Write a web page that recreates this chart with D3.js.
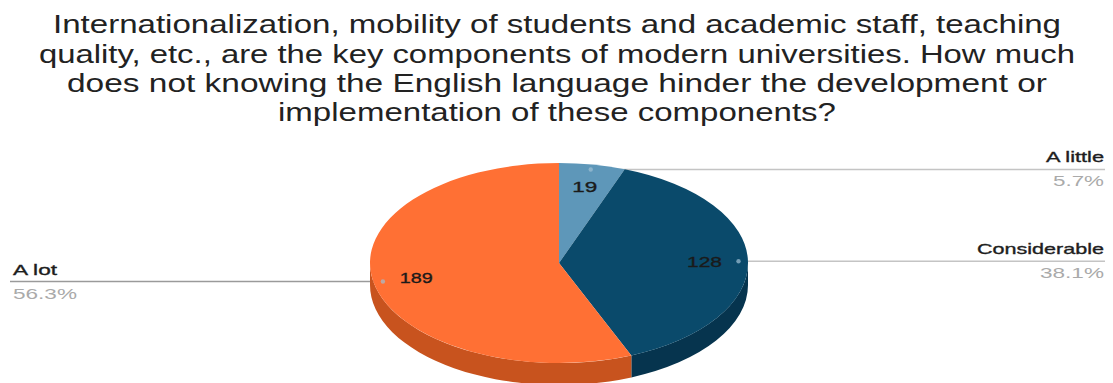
<!DOCTYPE html>
<html>
<head>
<meta charset="utf-8">
<script src="https://cdn.jsdelivr.net/npm/d3@7"></script>
<style>
  html, body { margin: 0; padding: 0; background: #fff; }
  svg { display: block; }
  text { font-family: "Liberation Sans", Arial, sans-serif; }
</style>
</head>
<body>
<svg id="chart" width="1113" height="383"></svg>
<script>
// Survey answers and counts
const categories = ["A little", "Considerable", "A lot"];
const counts = [19, 128, 189];
const titleLines = [
  "Internationalization, mobility of students and academic staff, teaching",
  "quality, etc., are the key components of modern universities. How much",
  "does not knowing the English language hinder the development or",
  "implementation of these components?"
];

const W = 1113, H = 383;
const svg = d3.select("#chart");

// Title, each line fitted to its measured width
const titleWidths = [1008, 1036, 980, 558];
const titleBase = [33, 63, 92, 121];
svg.append("g").selectAll("text")
  .data(titleLines)
  .join("text")
  .attr("x", 557)
  .attr("y", (d, i) => titleBase[i])
  .attr("text-anchor", "middle")
  .attr("font-size", 25)
  .attr("fill", "#222")
  .attr("textLength", (d, i) => titleWidths[i])
  .attr("lengthAdjust", "spacingAndGlyphs")
  .text(d => d);

// 3D pie geometry
const cx = 559, cy = 263, rx = 189, ry = 100, depth = 22;
const topColor = d3.scaleOrdinal().domain(categories).range(["#5e97b9", "#0a4a6b", "#ff7034"]);
const sideColor = d3.scaleOrdinal().domain(categories).range(["#3f6f8a", "#06344e", "#c8531e"]);

const total = d3.sum(counts);
const pct = d3.format(".1%");
const arcs = d3.pie().sort(null).value(d => d.value)(
  categories.map((c, i) => ({ name: c, value: counts[i] }))
);

const pt = (a, r = 1, dy = 0) => [cx + rx * r * Math.sin(a), cy - ry * r * Math.cos(a) + dy];

// leader lines sit beneath the pie
const labelAnchor = a => pt((a.startAngle + a.endAngle) / 2, 0.95);
const leaders = svg.append("g");
arcs.forEach(a => {
  const [ax, ay] = labelAnchor(a);
  const right = ax > cx;
  leaders.append("line")
    .attr("x1", ax).attr("y1", ay)
    .attr("x2", right ? 1105 : 10).attr("y2", ay)
    .attr("stroke", right ? "#c4c4c4" : "#9a9a9a")
    .attr("stroke-width", 1.6);
});

// side walls for the front half of the disc
const sides = svg.append("g");
arcs.forEach(a => {
  const a0 = Math.max(a.startAngle, Math.PI / 2);
  const a1 = Math.min(a.endAngle, 3 * Math.PI / 2);
  if (a1 <= a0) return;
  const s = pt(a0), e = pt(a1);
  const d = `M${s[0]},${s[1]} A${rx},${ry} 0 0 1 ${e[0]},${e[1]} ` +
            `L${e[0]},${e[1] + depth} A${rx},${ry} 0 0 0 ${s[0]},${s[1] + depth} Z`;
  sides.append("path").attr("d", d).attr("fill", sideColor(a.data.name));
});

// top faces: circular arcs squashed into the ellipse
const arcGen = d3.arc().innerRadius(0).outerRadius(rx);
svg.append("g")
  .attr("transform", `translate(${cx},${cy}) scale(1,${ry / rx})`)
  .selectAll("path")
  .data(arcs)
  .join("path")
  .attr("d", arcGen)
  .attr("fill", d => topColor(d.data.name));

// anchor dots
arcs.forEach(a => {
  const [ax, ay] = labelAnchor(a);
  svg.append("circle").attr("cx", ax).attr("cy", ay).attr("r", 2.2)
    .attr("fill", "#9fc0d4").attr("opacity", 0.7);
});

// values on slices
const valueWidths = { "A little": 25, "Considerable": 35, "A lot": 33 };
arcs.forEach(a => {
  const [vx, vy] = pt((a.startAngle + a.endAngle) / 2, 0.77);
  svg.append("text")
    .attr("x", vx).attr("y", vy + 5)
    .attr("text-anchor", "middle")
    .attr("font-size", 15)
    .attr("fill", "#1a1a1a")
    .attr("stroke", "#1a1a1a").attr("stroke-width", 0.35)
    .attr("textLength", valueWidths[a.data.name])
    .attr("lengthAdjust", "spacingAndGlyphs")
    .text(a.data.value);
});

// category and share labels along the leader lines
const nameWidths = { "A little": 58, "Considerable": 127, "A lot": 44 };
const pctWidths = { "A little": 51, "Considerable": 64, "A lot": 64 };
arcs.forEach(a => {
  const [ax, ay] = labelAnchor(a);
  const right = ax > cx;
  const x = right ? 1104 : 13;
  const anchor = right ? "end" : "start";
  svg.append("text")
    .attr("x", x).attr("y", ay - 7)
    .attr("text-anchor", anchor)
    .attr("font-size", 15)
    .attr("fill", "#1e1e1e")
    .attr("stroke", "#1e1e1e").attr("stroke-width", 0.35)
    .attr("textLength", nameWidths[a.data.name])
    .attr("lengthAdjust", "spacingAndGlyphs")
    .text(a.data.name);
  svg.append("text")
    .attr("x", x).attr("y", ay + 17)
    .attr("text-anchor", anchor)
    .attr("font-size", 15)
    .attr("fill", "#aaaaaa")
    .attr("textLength", pctWidths[a.data.name])
    .attr("lengthAdjust", "spacingAndGlyphs")
    .text(pct(a.data.value / total));
});
</script>
</body>
</html>
